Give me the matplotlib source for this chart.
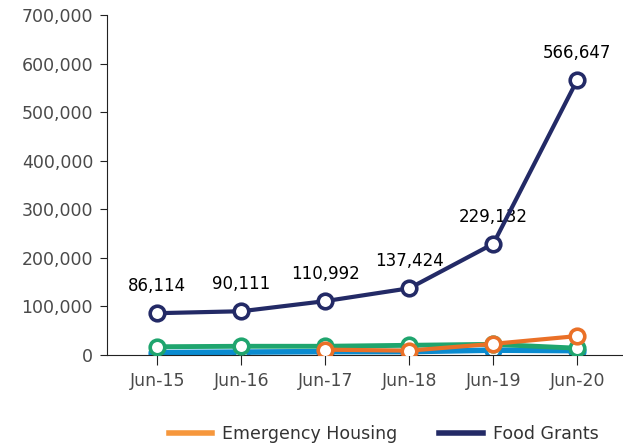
import numpy as np
import matplotlib.pyplot as plt
from matplotlib.lines import Line2D

months = ["Jun-15", "Jun-16", "Jun-17", "Jun-18", "Jun-19", "Jun-20"]
food_grants = [86114, 90111, 110992, 137424, 229132, 566647]
green_series = [17000, 18000, 18000, 20000, 22000, 14000]
blue_series = [5000, 6000, 7000, 7000, 10000, 9000]
emergency_housing = [np.nan, np.nan, 11000, 9000, 23000, 39000]

navy = "#232a66"
green = "#1fa56e"
blue = "#0a8bd0"
orange = "#ea7027"
orange_legend = "#f6973c"

plt.rcParams['font.family'] = ['DejaVu Sans']

fig = plt.figure(figsize=(6.23, 4.47), dpi=100)
ax = fig.add_axes([0.1717, 0.2058, 0.8265, 0.7606])
x = np.arange(len(months))

mk = dict(marker='o', markersize=10.5, markerfacecolor='white', markeredgewidth=2.6)
ax.plot(x, blue_series, color=blue, lw=4, markeredgecolor=blue, zorder=2, **mk)
ax.plot(x, green_series, color=green, lw=3.5, markeredgecolor=green, zorder=3, **mk)
ax.plot(x, emergency_housing, color=orange, lw=3, markeredgecolor=orange, zorder=4, **mk)
ax.plot(x, food_grants, color=navy, lw=3, markeredgecolor=navy, zorder=5, **mk)

for xi, v in zip(x, food_grants):
    ax.annotate(f"{v:,}", (xi, v), xytext=(0, 13), textcoords='offset points',
                ha='center', va='bottom', fontsize=12, color='black')

ax.set_xlim(-0.6, 5.53)
ax.set_ylim(0, 700000)
ax.set_xticks(x)
ax.set_xticklabels(months)
ax.set_yticks(np.arange(0, 700001, 100000))
ax.set_yticklabels([f"{v:,}" for v in range(0, 700001, 100000)])
ax.tick_params(axis='both', colors='#222222', labelcolor='#4a4a4a', labelsize=12.5)
ax.tick_params(axis='y', length=5, pad=5)
ax.tick_params(axis='x', length=7, pad=5)
ax.spines['top'].set_visible(False)
ax.spines['right'].set_visible(False)
ax.spines['left'].set_color('#222222')
ax.spines['bottom'].set_color('#222222')

handles = [Line2D([], [], color=orange_legend, lw=4),
           Line2D([], [], color=navy, lw=4)]
fig.legend(handles, ["Emergency Housing", "Food Grants"], loc='center',
           bbox_to_anchor=(0.616, 0.03), ncol=2, frameon=False, fontsize=12.5,
           handlelength=2.5, handletextpad=0.6, columnspacing=2.4,
           labelcolor='#333333')

fig.savefig("out.png", dpi=100)
